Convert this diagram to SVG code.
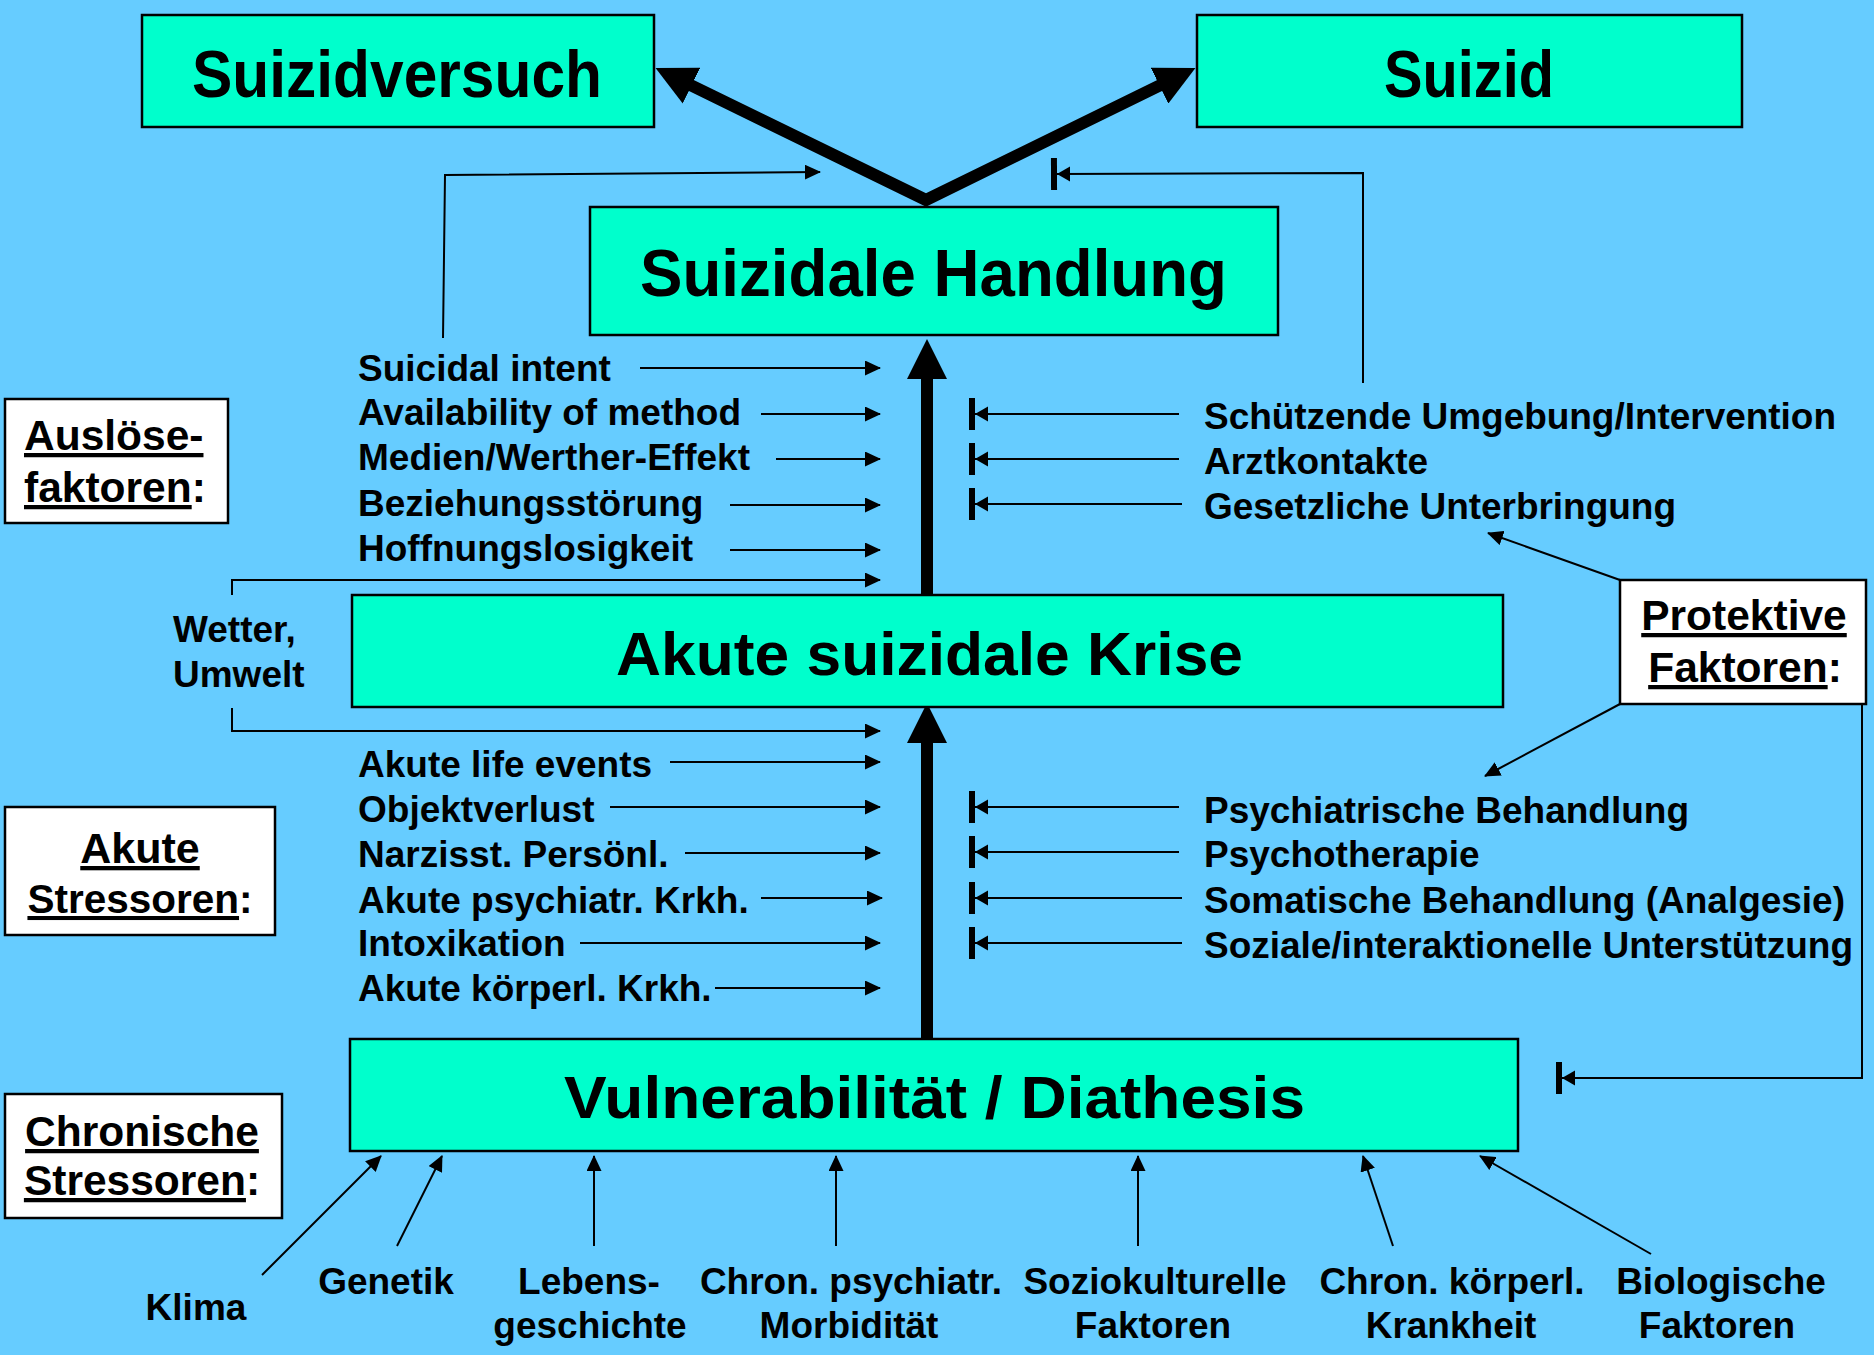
<svg xmlns="http://www.w3.org/2000/svg" width="1874" height="1355" viewBox="0 0 1874 1355">
<style>
text{font-family:"Liberation Sans",Arial,sans-serif;font-weight:bold;fill:#000}
.node{fill:#00FFCC;stroke:#000;stroke-width:2.5}
.lab{fill:#fff;stroke:#000;stroke-width:2.5}
.big{font-size:66px}
.t{font-size:37px}
.h{font-size:42.5px}
.thin{fill:none;stroke:#000;stroke-width:2}
.arr{marker-end:url(#arr)}
.inh{marker-end:url(#inh)}
.thick{fill:none;stroke:#000;stroke-width:12;stroke-linejoin:miter}
</style>
<defs>
<marker id="arr" viewBox="0 0 16 15" refX="15" refY="7.5" markerWidth="16" markerHeight="15" markerUnits="userSpaceOnUse" orient="auto">
<path d="M0,0 L16,7.5 L0,15 z" fill="#000"/>
</marker>
<marker id="inh" viewBox="-14 -17 21 34" refX="0" refY="0" markerWidth="21" markerHeight="34" markerUnits="userSpaceOnUse" orient="auto">
<path d="M-13,-7.5 L0,0 L-13,7.5 z" fill="#000"/>
<rect x="0" y="-16" width="6" height="32" fill="#000"/>
</marker>
<marker id="big" viewBox="0 0 40 40" refX="1" refY="20" markerWidth="40" markerHeight="40" markerUnits="userSpaceOnUse" orient="auto-start-reverse">
<path d="M0,0 L40,20 L0,40 z" fill="#000"/>
</marker>
</defs>
<rect x="0" y="0" width="1874" height="1355" fill="#66CCFF"/>

<g id="connectors">
<path class="thick" d="M690.6,85.2 L926,200 L1160.4,85.2" marker-start="url(#big)" marker-end="url(#big)"/>
<path class="thick" d="M927,595 V378" marker-end="url(#big)"/>
<path class="thick" d="M927,1038 V742" marker-end="url(#big)"/>

<path class="thin arr" d="M443,338 L445,175 L820,172"/>
<path class="thin inh" d="M1363,383 V173 L1057,174"/>

<path class="thin arr" d="M640,368 H880"/>
<path class="thin arr" d="M761,414 H880"/>
<path class="thin arr" d="M776,459 H880"/>
<path class="thin arr" d="M730,505 H880"/>
<path class="thin arr" d="M730,550 H880"/>
<path class="thin arr" d="M232,595 V580 H880"/>
<path class="thin arr" d="M232,708 V731 H880"/>
<path class="thin arr" d="M670,762 H880"/>
<path class="thin arr" d="M610,807 H880"/>
<path class="thin arr" d="M685,853 H880"/>
<path class="thin arr" d="M761,898 H882"/>
<path class="thin arr" d="M580,943 H880"/>
<path class="thin arr" d="M715,988 H880"/>

<path class="thin inh" d="M1179,414 H975"/>
<path class="thin inh" d="M1179,459 H975"/>
<path class="thin inh" d="M1182,504 H975"/>
<path class="thin inh" d="M1179,807 H975"/>
<path class="thin inh" d="M1179,852 H975"/>
<path class="thin inh" d="M1182,898 H975"/>
<path class="thin inh" d="M1182,943 H975"/>
<path class="thin inh" d="M1862,705 V1078 H1562"/>

<path class="thin arr" d="M1620,580 L1488,533"/>
<path class="thin arr" d="M1620,704 L1485,776"/>

<path class="thin arr" d="M262,1275 L381,1156"/>
<path class="thin arr" d="M397,1246 L442,1156"/>
<path class="thin arr" d="M594,1246 V1156"/>
<path class="thin arr" d="M836,1246 V1156"/>
<path class="thin arr" d="M1138,1246 V1156"/>
<path class="thin arr" d="M1393,1246 L1363,1156"/>
<path class="thin arr" d="M1651,1254 L1480,1156"/>
</g>

<g id="suizidversuch">
<rect class="node" x="142" y="15" width="512" height="112"/>
<text class="big" x="192" y="97" textLength="410" lengthAdjust="spacingAndGlyphs">Suizidversuch</text>
</g>
<g id="suizid">
<rect class="node" x="1197" y="15" width="545" height="112"/>
<text class="big" x="1384" y="97" textLength="170" lengthAdjust="spacingAndGlyphs">Suizid</text>
</g>
<g id="suizidale-handlung">
<rect class="node" x="590" y="207" width="688" height="128"/>
<text class="big" x="640" y="296" textLength="587" lengthAdjust="spacingAndGlyphs">Suizidale Handlung</text>
</g>
<g id="akute-krise">
<rect class="node" x="352" y="595" width="1151" height="112"/>
<text style="font-size:62px" x="616" y="675" textLength="627" lengthAdjust="spacingAndGlyphs">Akute suizidale Krise</text>
</g>
<g id="vulnerabilitaet">
<rect class="node" x="350" y="1039" width="1168" height="112"/>
<text style="font-size:60px" x="564" y="1118" textLength="741" lengthAdjust="spacingAndGlyphs">Vulnerabilität / Diathesis</text>
</g>

<g id="ausloesefaktoren">
<rect class="lab" x="5" y="399" width="223" height="124"/>
<text class="h" x="24" y="450"><tspan text-decoration="underline">Auslöse-</tspan></text>
<text class="h" x="24" y="502"><tspan text-decoration="underline">faktoren</tspan>:</text>
</g>
<g id="akute-stressoren">
<rect class="lab" x="5" y="807" width="270" height="128"/>
<text class="h" x="140" y="863" text-anchor="middle" style="font-size:43px"><tspan text-decoration="underline">Akute</tspan></text>
<text class="h" x="140" y="913" text-anchor="middle" style="font-size:40.5px"><tspan text-decoration="underline">Stressoren</tspan>:</text>
</g>
<g id="chronische-stressoren">
<rect class="lab" x="5" y="1094" width="277" height="124"/>
<text class="h" x="142" y="1146" text-anchor="middle"><tspan text-decoration="underline">Chronische</tspan></text>
<text class="h" x="142" y="1195" text-anchor="middle"><tspan text-decoration="underline">Stressoren</tspan>:</text>
</g>
<g id="protektive-faktoren">
<rect class="lab" x="1620" y="580" width="246" height="124"/>
<text class="h" x="1744" y="630" text-anchor="middle"><tspan text-decoration="underline">Protektive</tspan></text>
<text class="h" x="1745" y="682" text-anchor="middle"><tspan text-decoration="underline">Faktoren</tspan>:</text>
</g>

<g id="ausloeser">
<text class="t" x="358" y="381">Suicidal intent</text>
<text class="t" x="358" y="425">Availability of method</text>
<text class="t" x="358" y="470">Medien/Werther-Effekt</text>
<text class="t" x="358" y="516">Beziehungsstörung</text>
<text class="t" x="358" y="561">Hoffnungslosigkeit</text>
</g>
<g id="wetter">
<text class="t" x="173" y="642">Wetter,</text>
<text class="t" x="173" y="687">Umwelt</text>
</g>
<g id="akute-stressoren-liste">
<text class="t" x="358" y="777">Akute life events</text>
<text class="t" x="358" y="822">Objektverlust</text>
<text class="t" x="358" y="867">Narzisst. Persönl.</text>
<text class="t" x="358" y="913">Akute psychiatr. Krkh.</text>
<text class="t" x="358" y="956">Intoxikation</text>
<text class="t" x="358" y="1001">Akute körperl. Krkh.</text>
</g>
<g id="protektiv-oben">
<text class="t" x="1204" y="429" textLength="632" lengthAdjust="spacing">Schützende Umgebung/Intervention</text>
<text class="t" x="1204" y="474">Arztkontakte</text>
<text class="t" x="1204" y="519" textLength="472" lengthAdjust="spacing">Gesetzliche Unterbringung</text>
</g>
<g id="protektiv-mitte">
<text class="t" x="1204" y="823" textLength="485" lengthAdjust="spacing">Psychiatrische Behandlung</text>
<text class="t" x="1204" y="867">Psychotherapie</text>
<text class="t" x="1204" y="913" textLength="641" lengthAdjust="spacing">Somatische Behandlung (Analgesie)</text>
<text class="t" x="1204" y="958" textLength="649" lengthAdjust="spacing">Soziale/interaktionelle Unterstützung</text>
</g>
<g id="chronische-liste" text-anchor="middle">
<text class="t" x="196" y="1320">Klima</text>
<text class="t" x="386" y="1294">Genetik</text>
<text class="t" x="589" y="1294">Lebens-</text>
<text class="t" x="590" y="1338">geschichte</text>
<text class="t" x="851" y="1294">Chron. psychiatr.</text>
<text class="t" x="849" y="1338">Morbidität</text>
<text class="t" x="1155" y="1294">Soziokulturelle</text>
<text class="t" x="1153" y="1338">Faktoren</text>
<text class="t" x="1452" y="1294">Chron. körperl.</text>
<text class="t" x="1451" y="1338">Krankheit</text>
<text class="t" x="1721" y="1294">Biologische</text>
<text class="t" x="1717" y="1338">Faktoren</text>
</g>
</svg>
